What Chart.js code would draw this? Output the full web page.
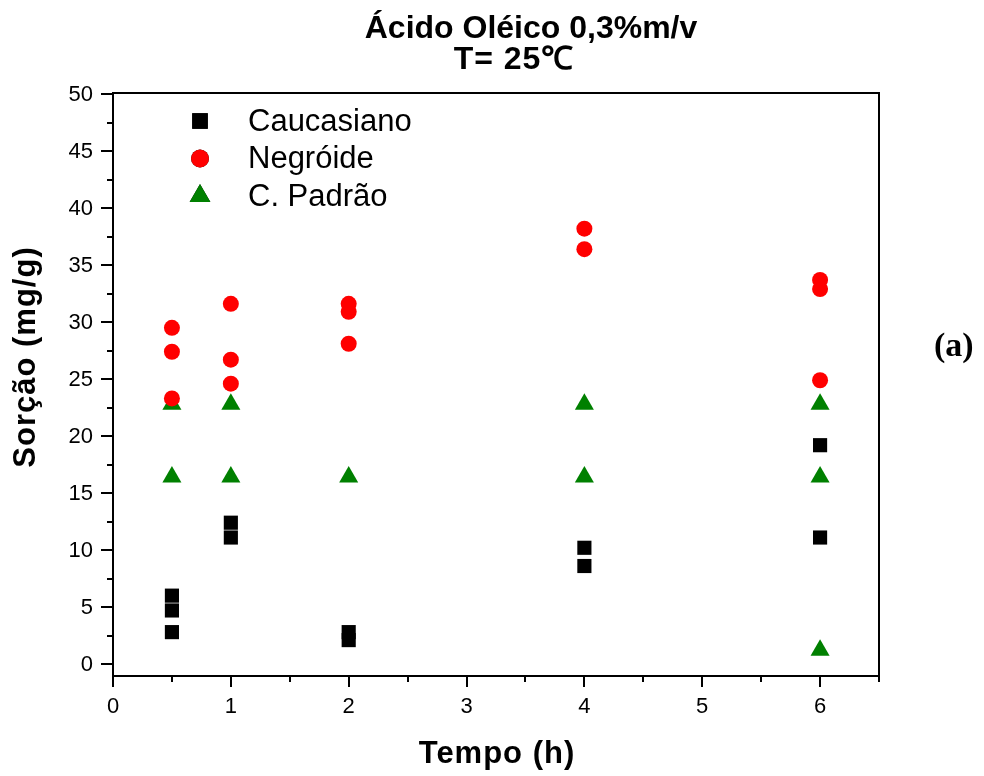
<!DOCTYPE html>
<html>
<head>
<meta charset="utf-8">
<script src="https://cdn.jsdelivr.net/npm/chart.js@4.4.0/dist/chart.umd.min.js"></script>
<style>
    html, body { margin: 0; padding: 0; background: #fff; }
    #wrap { width: 984px; height: 776px; }
</style>
</head>
<body>
<div id="wrap"><canvas id="sorcao"></canvas></div>
<script>
    // tempo (h) / sorção (mg/g) for each sample
    const caucX = [0.5, 0.5, 0.5, 1, 1, 2, 2, 4, 4, 6, 6];
    const caucY = [6.0, 4.7, 2.8, 12.4, 11.1, 2.8, 2.1, 10.2, 8.6, 19.2, 11.1];
    const negrX = [0.5, 0.5, 0.5, 1, 1, 1, 2, 2, 2, 4, 4, 6, 6, 6];
    const negrY = [29.5, 27.4, 23.3, 31.6, 26.7, 24.6, 31.6, 30.9, 28.1, 38.2, 36.4, 33.7, 32.9, 24.9];
    const padrX = [0.5, 0.5, 1, 1, 2, 4, 4, 6, 6, 6];
    const padrY = [22.8, 16.4, 22.8, 16.4, 16.4, 22.8, 16.4, 22.8, 16.4, 1.2];

    const xTicks = [0, 1, 2, 3, 4, 5, 6];
    const yTicks = [0, 5, 10, 15, 20, 25, 30, 35, 40, 45, 50];
    const seriesNames = ["Caucasiano", "Negróide", "C. Padrão"];

    const toPts = (xs, ys) => xs.map((x, i) => ({ x: x, y: ys[i] }));

    const SANS = "'Liberation Sans', Arial, sans-serif";

    // frame, ticks, labels, legend and captions
    const deco = {
        id: "deco",
        afterDraw(chart) {
            const ctx = chart.ctx;
            const a = chart.chartArea;
            const xs = chart.scales.x, ys = chart.scales.y;
            ctx.save();
            ctx.strokeStyle = "#000";
            ctx.fillStyle = "#000";
            ctx.lineWidth = 2;
            ctx.strokeRect(a.left, a.top, a.right - a.left, a.bottom - a.top);

            // x ticks
            for (let v = 0; v <= 6.5; v += 0.5) {
                const px = Math.round(xs.getPixelForValue(v));
                const major = Number.isInteger(v);
                ctx.beginPath();
                ctx.moveTo(px, a.bottom);
                ctx.lineTo(px, a.bottom + (major ? 11 : 6));
                ctx.stroke();
            }
            // y ticks
            for (let v = 0; v <= 50; v += 2.5) {
                const py = Math.round(ys.getPixelForValue(v));
                const major = v % 5 === 0;
                ctx.beginPath();
                ctx.moveTo(a.left, py);
                ctx.lineTo(a.left - (major ? 12 : 6), py);
                ctx.stroke();
            }

            ctx.font = "22px " + SANS;
            ctx.textAlign = "center";
            ctx.textBaseline = "alphabetic";
            xTicks.forEach(v => ctx.fillText(String(v), xs.getPixelForValue(v), 713));
            ctx.textAlign = "right";
            ctx.textBaseline = "middle";
            yTicks.forEach(v => ctx.fillText(String(v), 93, ys.getPixelForValue(v) + 1));

            // legend
            ctx.font = "31px " + SANS;
            ctx.textAlign = "left";
            ctx.textBaseline = "middle";
            chart.data.datasets.forEach((ds, i) => {
                const ly = 121 + i * 37.5;
                Chart.helpers.drawPoint(ctx, {
                    pointStyle: ds.pointStyle,
                    radius: ds.pointRadius + 1,
                    borderWidth: 0
                }, 200, ly);
                ctx.fillStyle = ds.backgroundColor;
                ctx.fill();
                ctx.fillStyle = "#000";
                ctx.fillText(seriesNames[i], 248, ly + 1);
            });

            // titles
            ctx.font = "bold 32px " + SANS;
            ctx.textAlign = "center";
            ctx.textBaseline = "alphabetic";
            ctx.fillText("Ácido Oléico 0,3%m/v", 531, 38);
            ctx.letterSpacing = "1px";
            ctx.fillText("T= 25℃", 514, 69);

            ctx.font = "bold 31px " + SANS;
            ctx.fillText("Tempo (h)", 497, 763);

            ctx.save();
            ctx.translate(35, 357);
            ctx.rotate(-Math.PI / 2);
            ctx.fillText("Sorção (mg/g)", 0, 0);
            ctx.restore();

            ctx.letterSpacing = "0px";
            ctx.font = "bold 34px 'Liberation Serif', 'Times New Roman', serif";
            ctx.textAlign = "left";
            ctx.fillText("(a)", 934, 356);
            ctx.restore();
        }
    };

    new Chart(document.getElementById("sorcao").getContext("2d"), {
        type: "scatter",
        data: {
            datasets: [
                {
                    label: seriesNames[0],
                    data: toPts(caucX, caucY),
                    pointStyle: "rect",
                    pointRadius: 10,
                    backgroundColor: "#000000",
                    borderWidth: 0
                },
                {
                    label: seriesNames[1],
                    data: toPts(negrX, negrY),
                    pointStyle: "circle",
                    pointRadius: 8,
                    backgroundColor: "#ff0000",
                    borderWidth: 0
                },
                {
                    label: seriesNames[2],
                    data: toPts(padrX, padrY),
                    pointStyle: "triangle",
                    pointRadius: 11,
                    backgroundColor: "#008000",
                    borderWidth: 0
                }
            ]
        },
        options: {
            responsive: true,
            maintainAspectRatio: false,
            animation: false,
            layout: {
                padding: { left: 113, right: 105, top: 93, bottom: 100 }
            },
            plugins: {
                legend: { display: false },
                title: { display: false },
                tooltip: { enabled: false }
            },
            scales: {
                x: { type: "linear", display: false, min: 0, max: 6.5 },
                y: { type: "linear", display: false, min: -1.05, max: 50.1 }
            }
        },
        plugins: [deco]
    });
</script>
</body>
</html>
